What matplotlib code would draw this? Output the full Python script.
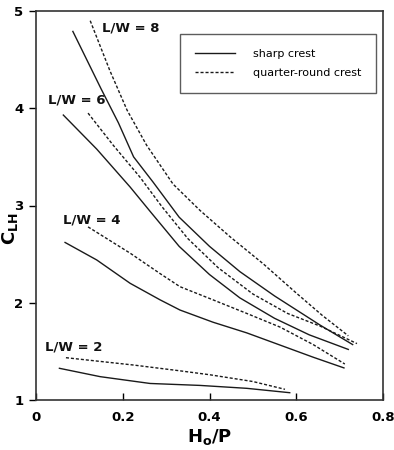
import matplotlib
matplotlib.use("Agg")
import matplotlib.pyplot as plt
from matplotlib.lines import Line2D

# ---- data ----
x_s8 = [0.085, 0.15, 0.19, 0.225, 0.27, 0.33, 0.40, 0.47, 0.55, 0.62, 0.655, 0.73]
y_s8 = [4.79, 4.20, 3.85, 3.50, 3.24, 2.88, 2.58, 2.32, 2.07, 1.87, 1.77, 1.57]
x_q8 = [0.125, 0.17, 0.21, 0.255, 0.316, 0.378, 0.447, 0.524, 0.60, 0.66, 0.72]
y_q8 = [4.90, 4.39, 3.98, 3.62, 3.22, 2.95, 2.68, 2.40, 2.10, 1.87, 1.66]

x_s6 = [0.063, 0.14, 0.217, 0.263, 0.33, 0.40, 0.47, 0.55, 0.63, 0.72]
y_s6 = [3.93, 3.58, 3.19, 2.94, 2.58, 2.29, 2.05, 1.84, 1.67, 1.52]
x_q6 = [0.12, 0.178, 0.24, 0.29, 0.35, 0.42, 0.50, 0.58, 0.655, 0.74]
y_q6 = [3.95, 3.62, 3.29, 2.99, 2.66, 2.36, 2.09, 1.89, 1.76, 1.58]

x_s4 = [0.067, 0.14, 0.217, 0.286, 0.332, 0.408, 0.486, 0.5625, 0.639, 0.71]
y_s4 = [2.62, 2.44, 2.20, 2.03, 1.925, 1.80, 1.69, 1.565, 1.44, 1.33]
x_q4 = [0.12, 0.217, 0.286, 0.332, 0.408, 0.486, 0.5625, 0.639, 0.712]
y_q4 = [2.78, 2.51, 2.30, 2.165, 2.03, 1.89, 1.75, 1.57, 1.37]

x_s2 = [0.054, 0.148, 0.263, 0.378, 0.486, 0.585]
y_s2 = [1.326, 1.24, 1.17, 1.15, 1.12, 1.075]
x_q2 = [0.069, 0.224, 0.332, 0.40, 0.50, 0.574]
y_q2 = [1.435, 1.36, 1.30, 1.26, 1.19, 1.11]

labels = ["L/W = 8", "L/W = 6", "L/W = 4", "L/W = 2"]
label_x = [0.152, 0.028, 0.063, 0.021]
label_y = [4.83, 4.08, 2.85, 1.55]

xticks = [0, 0.2, 0.4, 0.6, 0.8]
xtick_labels = ["0", "0.2", "0.4", "0.6", "0.8"]
yticks = [1, 2, 3, 4, 5]

legend_labels = ["sharp crest", "quarter-round crest"]

# ---- figure ----
fig = plt.figure(figsize=(3.94, 4.5), dpi=100)
ax = fig.add_axes([36/394, 50/450, 347/394, 389/450])

lc = "#1a1a1a"
lw = 1.0
dash = (0, (2.2, 1.4))

for xs, ys in [(x_s8, y_s8), (x_s6, y_s6), (x_s4, y_s4), (x_s2, y_s2)]:
    ax.plot(xs, ys, color=lc, lw=lw, ls="-")
for xs, ys in [(x_q8, y_q8), (x_q6, y_q6), (x_q4, y_q4), (x_q2, y_q2)]:
    ax.plot(xs, ys, color=lc, lw=lw, ls=dash)

for t, lx, ly in zip(labels, label_x, label_y):
    ax.text(lx, ly, t, fontsize=9.5, fontweight="bold", ha="left", va="center", color="#111")

ax.set_xlim(0, 0.8)
ax.set_ylim(1, 5)
ax.set_xticks(xticks)
ax.set_xticklabels(xtick_labels)
ax.set_yticks(yticks)

for s in ax.spines.values():
    s.set_linewidth(1.2)
    s.set_color("#333")

ax.tick_params(axis="x", direction="in", length=5, width=1, pad=8, labelsize=9.5)
ax.tick_params(axis="y", direction="out", length=5, width=1, pad=4, labelsize=9.5)
for lab in ax.get_xticklabels() + ax.get_yticklabels():
    lab.set_fontweight("bold")

ax.set_xlabel(r"$\mathbf{H_o/P}$", fontsize=13, labelpad=2)
ax.set_ylabel(r"$\mathbf{C_{LH}}$", fontsize=13)
ax.yaxis.set_label_coords(-0.046, 0.44)

handles = [Line2D([0], [0], color=lc, lw=lw, ls="-"),
           Line2D([0], [0], color=lc, lw=lw, ls=dash)]
leg = ax.legend(handles, legend_labels, loc="upper right",
                bbox_to_anchor=(0.98, 0.942), fontsize=8, frameon=True,
                fancybox=False, edgecolor="#333", handlelength=3.6,
                handletextpad=1.6, borderpad=1.35, labelspacing=0.85,
                borderaxespad=0)
leg.get_frame().set_linewidth(1.0)

fig.savefig("out.png", dpi=100)
